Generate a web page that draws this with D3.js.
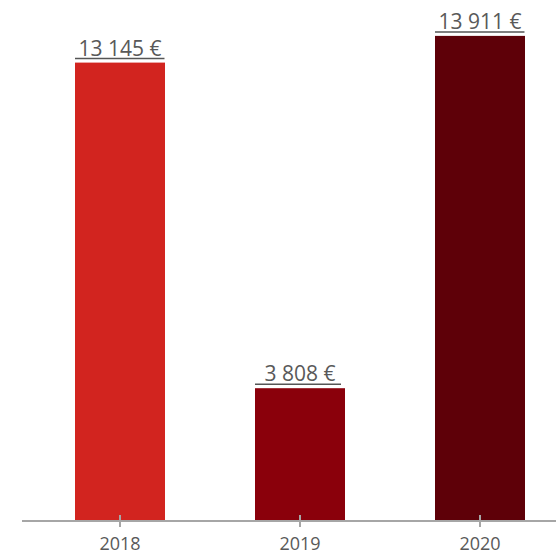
<!DOCTYPE html>
<html>
<head>
<meta charset="utf-8">
<script src="https://cdn.jsdelivr.net/npm/d3@7"></script>
<style>
  html, body { margin: 0; padding: 0; background: #fff; }
  svg { display: block; }
</style>
</head>
<body>
<svg id="chart" width="556" height="556"></svg>
<script>
// Yearly amounts in euros
const years = ["2018", "2019", "2020"];
const amounts = [13145, 3808, 13911];
const barColors = ["#d2241f", "#8a000b", "#5e0008"];

const svg = d3.select("#chart");
const W = 556, H = 556;
const baseY = 521;

const x = d3.scaleBand()
  .domain(years)
  .range([30, 570])
  .paddingInner(0.5)
  .paddingOuter(0.25);

const y = d3.scaleLinear()
  .domain([0, 14940])
  .range([baseY, 0]);

const fmt = v => d3.format(",")(v).replace(/,/g, " ") + " €";

// Bars
svg.append("g").selectAll("rect")
  .data(years)
  .join("rect")
  .attr("x", d => x(d))
  .attr("y", (d, i) => y(amounts[i]))
  .attr("width", x.bandwidth())
  .attr("height", (d, i) => baseY - y(amounts[i]))
  .attr("fill", (d, i) => barColors[i]);

// Axis along the bottom
const axis = svg.append("g")
  .attr("transform", `translate(0,${baseY})`)
  .call(d3.axisBottom(x).tickSize(6).tickSizeOuter(0).tickPadding(10));
axis.select(".domain").remove();
axis.insert("line", ":first-child")
  .attr("x1", 22).attr("x2", W)
  .attr("y1", 0).attr("y2", 0)
  .attr("stroke", "#a6a6a6").attr("stroke-width", 2);
axis.selectAll(".tick line").attr("stroke", "#a6a6a6").attr("stroke-width", 2)
  .attr("y1", -6).attr("y2", 6);
axis.selectAll(".tick text")
  .attr("fill", "#595959")
  .style("font-family", "'Open Sans', sans-serif")
  .style("font-size", "18px");

// Value labels with underline
const labels = svg.append("g").selectAll("g")
  .data(years)
  .join("g");

labels.append("text")
  .attr("x", d => x(d) + x.bandwidth() / 2)
  .attr("y", (d, i) => y(amounts[i]) - 7)
  .attr("text-anchor", "middle")
  .attr("fill", "#595959")
  .style("font-family", "'Open Sans', sans-serif")
  .style("font-size", "21px")
  .text((d, i) => fmt(amounts[i]));

labels.each(function(d, i) {
  const g = d3.select(this);
  const bb = g.select("text").node().getBBox();
  g.append("line")
    .attr("x1", x(d))
    .attr("x2", Math.max(bb.x + bb.width + 3, x(d) + x.bandwidth() - 4))
    .attr("y1", y(amounts[i]) - 4)
    .attr("y2", y(amounts[i]) - 4)
    .attr("stroke", "#555")
    .attr("stroke-width", 1.5);
});
</script>
</body>
</html>
